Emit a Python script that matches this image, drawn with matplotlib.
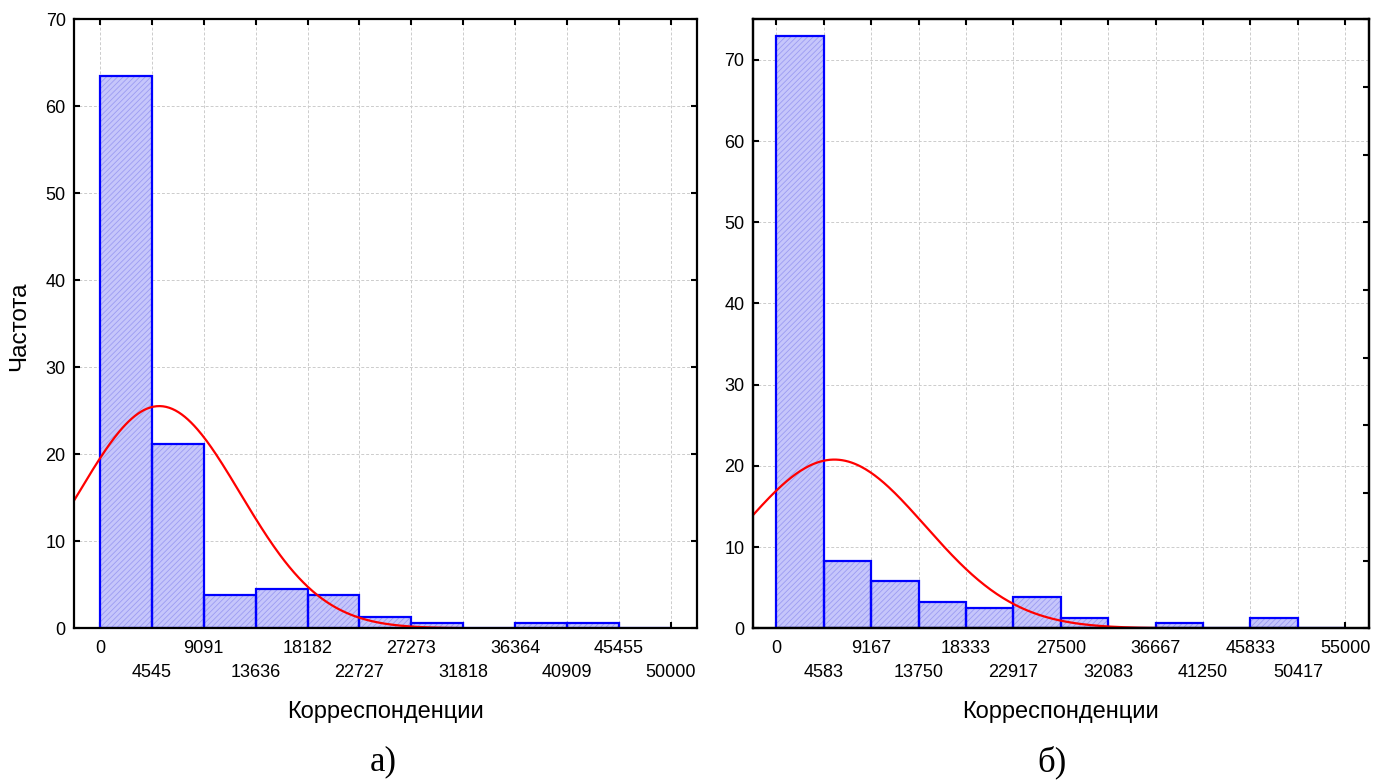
import numpy as np
import matplotlib
matplotlib.use("Agg")
import matplotlib.pyplot as plt

plt.rcParams['font.family'] = ['Liberation Sans', 'DejaVu Sans']
plt.rcParams['hatch.linewidth'] = 0.6

# panel a)
labels_a = ['0', '4545', '9091', '13636', '18182', '22727', '27273',
            '31818', '36364', '40909', '45455', '50000']
counts_a = [63.5, 21.2, 3.8, 4.5, 3.8, 1.3, 0.6, 0.0, 0.6, 0.6, 0.0]
mean_a, std_a = 5200, 7100

# panel б)
labels_b = ['0', '4583', '9167', '13750', '18333', '22917', '27500',
            '32083', '36667', '41250', '45833', '50417', '55000']
counts_b = [73.0, 8.3, 5.8, 3.3, 2.5, 3.9, 1.3, 0.0, 0.6, 0.0, 1.3, 0.0]
mean_b, std_b = 5600, 8800

total = 100.0  # percent


def draw_panel(ax, labels, counts, mean, std, xmax, ymax):
    nb = len(counts)
    bw = xmax / nb
    edges = np.arange(nb + 1) * bw
    lefts = edges[:-1]

    ax.bar(lefts, counts, width=bw, align='edge', facecolor='#c6c6fb',
           edgecolor='#9c9cf2', hatch='//////', lw=0, zorder=1)
    ax.bar(lefts, counts, width=bw, align='edge', fill=False,
           edgecolor='#0000ff', lw=1.6, zorder=1.5)

    xlo, xhi = -bw / 2, xmax + bw / 2
    xs = np.linspace(xlo, xhi, 400)
    ys = total * bw / (std * np.sqrt(2 * np.pi)) * np.exp(-(xs - mean) ** 2 / (2 * std ** 2))
    ax.plot(xs, ys, color='#ff0000', lw=1.6, zorder=2)

    ax.set_xlim(xlo, xhi)
    ax.set_ylim(0, ymax)

    ax.set_xticks(edges[::2])
    ax.set_xticklabels(labels[::2])
    ax.set_xticks(edges[1::2], minor=True)
    ax.set_xticklabels(labels[1::2], minor=True)
    ax.set_yticks(np.arange(0, 71, 10))

    ax.tick_params(axis='x', which='both', direction='in', length=4, width=1.5,
                   top=True, labelsize=13)
    ax.tick_params(axis='x', which='major', pad=8.4)
    ax.tick_params(axis='x', which='minor', pad=25.6)
    ax.tick_params(axis='y', direction='in', length=4, width=1.5, labelsize=13, pad=6)

    ax.set_axisbelow(True)
    ax.grid(True, which='both', axis='x', ls=(0, (3, 2)), color='#cccccc', lw=0.7)
    ax.grid(True, which='major', axis='y', ls=(0, (3, 2)), color='#cccccc', lw=0.7)
    for sp in ax.spines.values():
        sp.set_linewidth(1.6)
        sp.set_zorder(3)


W, H = 1384, 783
fig = plt.figure(figsize=(W / 100, H / 100), dpi=100)
bottom = 1 - 628.3 / H
height = (628.3 - 19.3) / H

ax1 = fig.add_axes([74 / W, bottom, (696.7 - 74) / W, height])
draw_panel(ax1, labels_a, counts_a, mean_a, std_a, 50000, 70)
ax1.tick_params(axis='y', right=True)

ax2 = fig.add_axes([752.7 / W, bottom, (1369 - 752.7) / W, height])
draw_panel(ax2, labels_b, counts_b, mean_b, std_b, 55000, 75)
ax2b = ax2.twinx()
ax2b.set_ylim(0, 9)
ax2b.set_yticks(np.arange(0, 10))
ax2b.set_yticklabels([])
ax2b.tick_params(axis='y', direction='in', length=4, width=1.5)
for sp in ax2b.spines.values():
    sp.set_linewidth(1.6)

fig.text(19 / W, 1 - 326 / H, 'Частота', rotation=90, ha='center', va='center', fontsize=17.5)
fig.text((74 + 696.7) / 2 / W, 1 - 718 / H, 'Корреспонденции', ha='center',
         va='baseline', fontsize=17)
fig.text((752.7 + 1369) / 2 / W, 1 - 718 / H, 'Корреспонденции', ha='center',
         va='baseline', fontsize=17)
fig.text(383 / W, 1 - 762 / H, 'а)', ha='center', va='center', fontsize=25,
         family=['Liberation Serif', 'DejaVu Serif'])
fig.text(1052 / W, 1 - 762 / H, 'б)', ha='center', va='center', fontsize=25,
         family=['Liberation Serif', 'DejaVu Serif'])

fig.savefig('out.png', dpi=100)
